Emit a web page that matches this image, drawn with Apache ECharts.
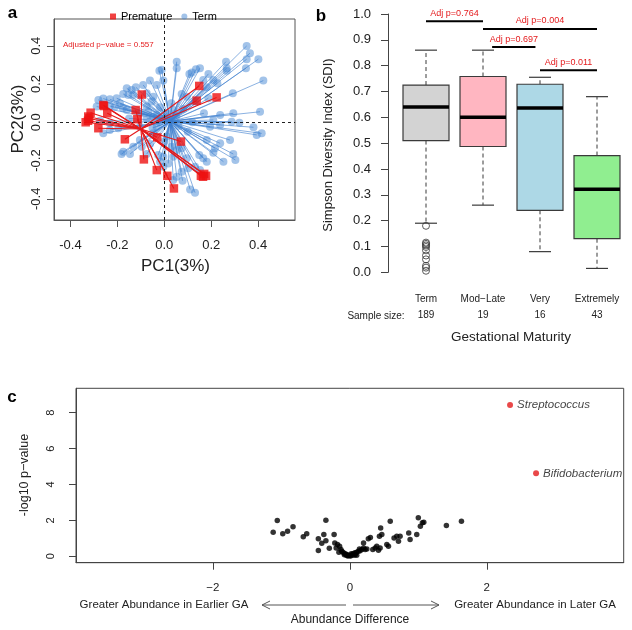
<!DOCTYPE html>
<html><head><meta charset="utf-8">
<script src="https://cdn.jsdelivr.net/npm/echarts@6/dist/echarts.min.js"></script>
<style>html,body{margin:0;padding:0;background:#fff}#c{width:632px;height:630px}</style>
</head><body><div id="c"></div>
<script>
// ---------- Panel a: PCA spider plot ----------
const termCentroid = [0.025, 0.005];
const prematureCentroid = [-0.10, -0.035];
const termPC1 = [
 0.351,0.365,0.401,0.351,0.348,0.263,0.266,0.266,0.422,0.292,
 0.226,0.188,0.209,0.166,0.181,0.152,0.117,0.107,0.135,0.053,
 0.053,-0.021,-0.011,-0.004,-0.061,-0.032,-0.09,-0.121,-0.139,-0.16,
 -0.175,-0.153,-0.132,-0.203,-0.232,-0.26,-0.281,-0.288,-0.232,-0.21,
 -0.189,-0.177,-0.16,-0.075,-0.047,-0.054,-0.075,-0.068,-0.032,-0.018,
 0.01,0.038,0.074,0.096,0.131,0.188,0.169,0.238,0.294,0.408,
 0.287,0.32,0.238,0.209,0.195,0.38,0.394,0.415,0.28,0.238,
 0.181,0.216,0.209,0.294,0.303,0.252,0.181,0.149,0.131,0.152,
 0.102,0.074,0.053,0.038,0.078,0.11,0.131,-0.004,-0.026,-0.004,
 -0.018,0.038,0.096,0.053,0.074,0.031,0.017,-0.175,-0.182,-0.146,
 -0.075,-0.061,-0.096,-0.132,-0.104,-0.232,-0.196,-0.26,-0.232,-0.274,
 -0.104,-0.075,-0.047,-0.032,-0.047,0.01,0.166,
 0.0,0.05,0.06,0.1,-0.02,0.08,-0.1,0.12,-0.15,0.0,0.03,-0.05];
const termPC2 = [
 0.399,0.361,0.33,0.33,0.283,0.317,0.283,0.27,0.218,0.152,
 0.204,0.253,0.221,0.221,0.183,0.283,0.26,0.253,0.277,0.317,
 0.283,0.27,0.274,0.218,0.218,0.195,0.195,0.183,0.169,0.178,
 0.148,0.143,0.143,0.126,0.12,0.124,0.117,0.082,0.085,0.082,
 0.099,0.073,0.064,0.152,0.134,0.108,0.082,0.055,0.038,0.079,
 0.047,0.064,0.148,0.134,0.108,0.126,0.047,0.038,0.047,0.055,
 0.003,-0.002,-0.014,0.012,-0.023,-0.026,-0.066,-0.058,-0.093,-0.11,
 -0.093,-0.136,-0.159,-0.166,-0.197,-0.206,-0.206,-0.171,-0.232,-0.25,
 -0.241,-0.259,-0.285,-0.302,-0.306,-0.351,-0.368,-0.232,-0.171,-0.18,
 -0.206,-0.18,-0.188,-0.145,-0.136,-0.128,-0.215,-0.154,-0.166,-0.166,
 -0.166,-0.114,-0.128,-0.128,-0.093,-0.04,-0.031,-0.058,-0.005,0.008,
 -0.023,0.021,0.029,-0.023,-0.058,-0.075,-0.188,
 0.02,0.03,-0.02,-0.05,0.0,0.07,0.05,0.0,0.02,-0.1,0.1,-0.03];
const prematurePC1 = [0.149,0.223,0.138,-0.096,-0.122,-0.257,-0.243,-0.314,-0.324,-0.335,
 -0.325,-0.32,-0.281,-0.168,-0.087,-0.03,0.071,-0.032,0.013,0.041,
 0.156,0.178,0.17,0.165,-0.115,-0.26];
const prematurePC2 = [0.19,0.13,0.113,0.145,0.064,0.085,0.047,0.05,0.03,0.0,
 0.008,0.02,-0.031,-0.089,-0.194,-0.079,-0.101,-0.25,-0.28,-0.346,
 -0.28,-0.28,-0.27,-0.285,0.016,0.09];
const pcaTicks = [-0.4, -0.2, 0, 0.2, 0.4];

// ---------- Panel b: box plots ----------
const groups = ['Term', 'Mod\u2212Late', 'Very', 'Extremely'];
const sampleSizes = [189, 19, 16, 43];
const whiskerLow = [0.19, 0.26, 0.08, 0.015];
const q1 = [0.51, 0.487, 0.24, 0.13];
const median = [0.64, 0.60, 0.636, 0.322];
const q3 = [0.725, 0.758, 0.728, 0.452];
const whiskerHigh = [0.86, 0.86, 0.755, 0.68];
const boxColors = ['#d3d3d3', '#ffb6c1', '#add8e6', '#90ee90'];
const termOutliers = [0.18, 0.115, 0.11, 0.104, 0.098, 0.085, 0.065, 0.05, 0.025, 0.018, 0.006];
const sigFrom = [0, 1, 1.16, 2];
const sigTo = [1, 3, 1.92, 3];
const sigY = [0.972, 0.942, 0.872, 0.782];
const sigText = ['Adj p=0.764', 'Adj p=0.004', 'Adj p=0.697', 'Adj p=0.011'];

// ---------- Panel c: volcano plot ----------
const diffOther = [-1.12,-1.06,-0.98,-0.91,-0.83,-0.68,-0.63,-0.46,-0.46,-0.35,
 -0.38,-0.41,-0.35,-0.23,-0.30,-0.22,-0.18,-0.20,-0.15,-0.13,
 -0.16,-0.10,-0.08,-0.12,-0.06,-0.04,-0.02,-0.05,-0.03,0.004,
 0.01,0.03,0.053,0.077,0.1,0.126,0.14,0.175,0.2,0.223,
 0.248,0.2,0.27,0.3,0.335,0.37,0.393,0.418,0.442,0.432,
 0.45,0.467,0.54,0.564,0.59,0.646,0.685,0.71,0.734,0.86,
 0.88,0.977,1.0,1.03,1.06,1.08,1.41,1.63,0.06,0.08,
 -0.08,0.02,0.15,0.1];
const logpOther = [1.34,1.99,1.25,1.39,1.65,1.08,1.26,0.97,0.32,2.0,
 1.21,0.72,0.87,1.21,0.44,0.74,0.65,0.46,0.56,0.37,
 0.22,0.22,0.15,0.28,0.12,0.09,0.04,0.05,0.02,0.04,
 0.01,0.09,0.15,0.19,0.22,0.28,0.41,0.37,0.46,0.37,
 0.41,0.74,0.97,1.05,0.37,0.46,0.56,0.34,0.46,1.11,
 1.58,1.21,0.65,0.56,1.95,1.02,1.11,0.84,1.11,1.3,
 0.93,1.21,2.14,1.67,1.86,1.89,1.71,1.95,0.06,0.1,
 0.08,0.14,0.3,0.05];
const sigTaxa = ['Streptococcus', 'Bifidobacterium'];
const sigDiff = [2.34, 2.72];
const sigLogp = [8.43, 4.62];
const volX = [-2, 0, 2];
const volY = [0, 2, 4, 6, 8];

// ---------- build ----------
const FONT = 'Liberation Sans, Arial, Helvetica, sans-serif';
const RED = '#e41a1c';
const fmtNum = v => (v < 0 ? '-' : '') + Math.abs(v).toFixed(1);

const termPts = termPC1.map((x, i) => [x, termPC2[i]]);
const premPts = prematurePC1.map((x, i) => [x, prematurePC2[i]]);
const termLines = termPts.map(p => ({coords: [termCentroid, p]}));
const premLines = premPts.map(p => ({coords: [prematureCentroid, p]}));
const boxData = groups.map((g, i) => [i, whiskerLow[i], q1[i], median[i], q3[i], whiskerHigh[i]]);
const sigData = sigFrom.map((f, i) => [f, sigTo[i], sigY[i]]);

const chart = echarts.init(document.getElementById('c'), null, {renderer: 'canvas'});

const option = {
  animation: false,
  textStyle: {fontFamily: FONT},
  legend: {
    left: 105, top: 6, itemWidth: 6, itemHeight: 6, itemGap: 9,
    textStyle: {fontSize: 11, color: '#000', fontFamily: FONT},
    data: [{name: 'Premature', icon: 'rect'}, {name: 'Term', icon: 'circle'}]
  },
  grid: [
    {left: 54, top: 19, width: 241, height: 201, show: true, borderColor: '#555', borderWidth: 1, backgroundColor: 'transparent'},
    {left: 397.5, top: 14, width: 228, height: 258.3},
    {left: 76, top: 388.3, width: 547.7, height: 174.4, show: true, borderColor: '#444', borderWidth: 1, backgroundColor: 'transparent'}
  ],
  xAxis: [
    {gridIndex: 0, type: 'value', min: -0.47, max: 0.557, splitLine: {show: false},
     axisLine: {show: true, onZero: false, lineStyle: {color: '#555'}},
     axisTick: {show: true, length: 7, customValues: pcaTicks, lineStyle: {color: '#555'}},
     axisLabel: {customValues: pcaTicks, formatter: fmtNum, fontSize: 13, color: '#222', margin: 19, fontFamily: FONT}},
    {gridIndex: 1, type: 'value', min: -0.5, max: 3.5, splitLine: {show: false},
     axisLine: {show: false, onZero: false}, axisTick: {show: false},
     axisLabel: {customValues: [0, 1, 2, 3], margin: 19,
       formatter: v => '{c|' + groups[v] + '}\n{n|' + sampleSizes[v] + '}',
       rich: {c: {fontSize: 10, lineHeight: 16, color: '#222', fontFamily: FONT},
              n: {fontSize: 10, lineHeight: 16, color: '#222', fontFamily: FONT}}}},
    {gridIndex: 2, type: 'value', min: -4, max: 4, splitLine: {show: false},
     axisLine: {show: true, onZero: false, lineStyle: {color: '#444'}},
     axisTick: {show: true, length: 7, customValues: volX, lineStyle: {color: '#444'}},
     axisLabel: {customValues: volX, formatter: v => (v < 0 ? '\u2212' : '') + Math.abs(v), fontSize: 11.5, color: '#222', margin: 19, fontFamily: FONT}}
  ],
  yAxis: [
    {gridIndex: 0, type: 'value', min: -0.511, max: 0.540, splitLine: {show: false},
     axisLine: {show: true, onZero: false, lineStyle: {color: '#555'}},
     axisTick: {show: true, length: 7, customValues: pcaTicks, lineStyle: {color: '#555'}},
     axisLabel: {customValues: pcaTicks, formatter: fmtNum, rotate: 90, fontSize: 13, color: '#222', margin: 11, fontFamily: FONT}},
    {gridIndex: 1, type: 'value', min: 0, max: 1, interval: 0.1, offset: 9.5, splitLine: {show: false},
     axisLine: {show: true, onZero: false, lineStyle: {color: '#444'}},
     axisTick: {show: true, length: 7, lineStyle: {color: '#444'}},
     axisLabel: {formatter: v => v.toFixed(1), fontSize: 13, color: '#222', margin: 17, fontFamily: FONT}},
    {gridIndex: 2, type: 'value', min: -0.36, max: 9.36, splitLine: {show: false},
     axisLine: {show: true, onZero: false, lineStyle: {color: '#444'}},
     axisTick: {show: true, length: 7, customValues: volY, lineStyle: {color: '#444'}},
     axisLabel: {customValues: volY, rotate: 90, fontSize: 11, color: '#222', margin: 20, fontFamily: FONT}}
  ],
  series: [
    // Panel a
    {type: 'lines', coordinateSystem: 'cartesian2d', xAxisIndex: 0, yAxisIndex: 0, silent: true, z: 2,
     lineStyle: {color: 'rgba(60,125,205,0.6)', width: 1, opacity: 1}, data: termLines,
     markLine: {silent: true, symbol: 'none', label: {show: false},
       lineStyle: {color: '#222', type: [3, 3], width: 1},
       data: [{xAxis: 0}, {yAxis: 0}]}},
    {name: 'Term', type: 'scatter', xAxisIndex: 0, yAxisIndex: 0, symbol: 'circle', symbolSize: 8, z: 3,
     itemStyle: {color: 'rgba(60,130,210,0.6)'}, data: termPts},
    {type: 'lines', coordinateSystem: 'cartesian2d', xAxisIndex: 0, yAxisIndex: 0, silent: true, z: 4,
     lineStyle: {color: RED, width: 1.1, opacity: 1}, data: premLines},
    {name: 'Premature', type: 'scatter', xAxisIndex: 0, yAxisIndex: 0, symbol: 'rect', symbolSize: 8.5, z: 5,
     itemStyle: {color: '#ee1111'}, data: premPts},
    // Panel b
    {type: 'custom', xAxisIndex: 1, yAxisIndex: 1, silent: true, z: 3,
     encode: {x: 0, y: [1, 2, 3, 4, 5]},
     renderItem: function (params, api) {
       const i = api.value(0);
       const lo = api.coord([i, api.value(1)]);
       const a = api.coord([i, api.value(2)]);
       const m = api.coord([i, api.value(3)]);
       const b = api.coord([i, api.value(4)]);
       const hi = api.coord([i, api.value(5)]);
       const x = a[0], hw = 23, cw = 11;
       const stroke = '#3a3a3a';
       return {type: 'group', children: [
         {type: 'line', shape: {x1: x, y1: b[1], x2: x, y2: hi[1]}, style: {stroke: stroke, lineWidth: 1, lineDash: [4, 3]}},
         {type: 'line', shape: {x1: x, y1: a[1], x2: x, y2: lo[1]}, style: {stroke: stroke, lineWidth: 1, lineDash: [4, 3]}},
         {type: 'line', shape: {x1: x - cw, y1: hi[1], x2: x + cw, y2: hi[1]}, style: {stroke: stroke, lineWidth: 1.2}},
         {type: 'line', shape: {x1: x - cw, y1: lo[1], x2: x + cw, y2: lo[1]}, style: {stroke: stroke, lineWidth: 1.2}},
         {type: 'rect', shape: {x: x - hw, y: b[1], width: 2 * hw, height: a[1] - b[1]},
          style: {fill: boxColors[params.dataIndex], stroke: stroke, lineWidth: 1.2}},
         {type: 'line', shape: {x1: x - hw, y1: m[1], x2: x + hw, y2: m[1]}, style: {stroke: '#000', lineWidth: 3.5}}
       ]};
     },
     data: boxData},
    {type: 'scatter', xAxisIndex: 1, yAxisIndex: 1, symbol: 'circle', symbolSize: 7, silent: true, z: 4,
     itemStyle: {color: 'rgba(255,255,255,0)', borderColor: '#333', borderWidth: 1},
     data: termOutliers.map(v => [0, v])},
    {type: 'custom', xAxisIndex: 1, yAxisIndex: 1, silent: true, z: 5,
     encode: {x: [0, 1], y: 2},
     renderItem: function (params, api) {
       const p1 = api.coord([api.value(0), api.value(2)]);
       const p2 = api.coord([api.value(1), api.value(2)]);
       return {type: 'group', children: [
         {type: 'line', shape: {x1: p1[0], y1: p1[1], x2: p2[0], y2: p2[1]}, style: {stroke: '#000', lineWidth: 2}},
         {type: 'text', x: (p1[0] + p2[0]) / 2, y: p1[1] - 8,
          style: {text: sigText[params.dataIndex], fill: RED, fontSize: 9, fontFamily: FONT, align: 'center', verticalAlign: 'middle'}}
       ]};
     },
     data: sigData},
    // Panel c
    {type: 'scatter', xAxisIndex: 2, yAxisIndex: 2, symbolSize: 5.5, silent: true,
     itemStyle: {color: '#000'}, data: diffOther.map((x, i) => [x, logpOther[i]])},
    {type: 'scatter', xAxisIndex: 2, yAxisIndex: 2, symbolSize: 6, silent: true,
     itemStyle: {color: RED},
     label: {show: true, position: 'right', distance: 4, fontStyle: 'italic', fontSize: 11.5, color: '#111', fontFamily: FONT,
       formatter: p => sigTaxa[p.dataIndex]},
     data: sigDiff.map((x, i) => [x, sigLogp[i]])}
  ],
  graphic: [
    {type: 'text', x: 12.5, y: 13, style: {text: 'a', fontSize: 17, fontWeight: 'bold', fill: '#000', fontFamily: FONT, align: 'center', verticalAlign: 'middle'}},
    {type: 'text', x: 63, y: 45, style: {text: 'Adjusted p\u2212value = 0.557', fontSize: 8, fill: RED, fontFamily: FONT, align: 'left', verticalAlign: 'middle'}},
    {type: 'text', x: 175.5, y: 266, style: {text: 'PC1(3%)', fontSize: 17, fill: '#222', fontFamily: FONT, align: 'center', verticalAlign: 'middle'}},
    {type: 'text', x: 18.5, y: 119, rotation: Math.PI / 2, style: {text: 'PC2(3%)', fontSize: 17, fill: '#222', fontFamily: FONT, align: 'center', verticalAlign: 'middle'}},
    {type: 'text', x: 321, y: 16, style: {text: 'b', fontSize: 17, fontWeight: 'bold', fill: '#000', fontFamily: FONT, align: 'center', verticalAlign: 'middle'}},
    {type: 'text', x: 328, y: 145, rotation: Math.PI / 2, style: {text: 'Simpson Diversity Index (SDI)', fontSize: 13, fill: '#222', fontFamily: FONT, align: 'center', verticalAlign: 'middle'}},
    {type: 'text', x: 376, y: 316, style: {text: 'Sample size:', fontSize: 10, fill: '#222', fontFamily: FONT, align: 'center', verticalAlign: 'middle'}},
    {type: 'text', x: 511, y: 337, style: {text: 'Gestational Maturity', fontSize: 13.5, fill: '#222', fontFamily: FONT, align: 'center', verticalAlign: 'middle'}},
    {type: 'text', x: 12, y: 397, style: {text: 'c', fontSize: 17, fontWeight: 'bold', fill: '#000', fontFamily: FONT, align: 'center', verticalAlign: 'middle'}},
    {type: 'text', x: 25, y: 475, rotation: Math.PI / 2, style: {text: '-log10 p\u2212value', fontSize: 12.5, fill: '#222', fontFamily: FONT, align: 'center', verticalAlign: 'middle'}},
    {type: 'text', x: 164, y: 605, style: {text: 'Greater Abundance in Earlier GA', fontSize: 11.5, fill: '#222', fontFamily: FONT, align: 'center', verticalAlign: 'middle'}},
    {type: 'text', x: 535, y: 605, style: {text: 'Greater Abundance in Later GA', fontSize: 11.5, fill: '#222', fontFamily: FONT, align: 'center', verticalAlign: 'middle'}},
    {type: 'text', x: 350, y: 620, style: {text: 'Abundance Difference', fontSize: 12, fill: '#222', fontFamily: FONT, align: 'center', verticalAlign: 'middle'}},
    {type: 'line', shape: {x1: 262, y1: 605, x2: 346, y2: 605}, style: {stroke: '#555', lineWidth: 1}},
    {type: 'polyline', shape: {points: [[270, 601], [262, 605], [270, 609]]}, style: {stroke: '#555', lineWidth: 1, fill: null}},
    {type: 'line', shape: {x1: 353, y1: 605, x2: 439, y2: 605}, style: {stroke: '#555', lineWidth: 1}},
    {type: 'polyline', shape: {points: [[431, 601], [439, 605], [431, 609]]}, style: {stroke: '#555', lineWidth: 1, fill: null}}
  ]
};
chart.setOption(option);
</script>
</body></html>
